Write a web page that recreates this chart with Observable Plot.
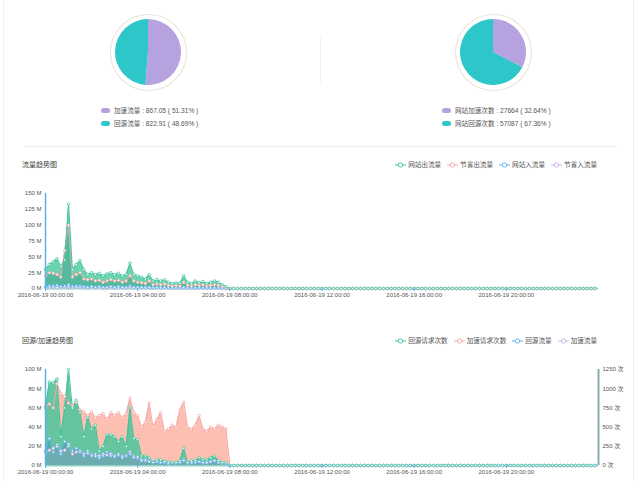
<!DOCTYPE html>
<html><head><meta charset="utf-8">
<script src="https://cdn.jsdelivr.net/npm/d3@7"></script>
<script src="https://cdn.jsdelivr.net/npm/@observablehq/plot@0.6"></script>
<style>
body{margin:0;background:#fff;font-family:"Liberation Sans","Noto Sans CJK SC",sans-serif;}
#root{position:relative;width:640px;height:482px;overflow:hidden;background:#fff;}
.abs{position:absolute;}
.title{font-size:7px;color:#444;line-height:10px;white-space:nowrap;}
.plg{font-size:6.6px;color:#555;line-height:9px;white-space:nowrap;display:flex;align-items:center;}
.plg .mk{display:inline-block;width:9px;height:5.5px;border-radius:3px;margin-right:4px;}
.clg{font-size:6.6px;color:#555;line-height:9px;white-space:nowrap;display:flex;align-items:center;gap:6px;}
.clg .it{display:flex;align-items:center;gap:2px;}
</style></head><body><div id="root"></div>
<script>
// ---------- data ----------
const pie1Labels = ["加速流量", "回源流量"];
const pie1Values = [867.05, 822.91];
const pie1Pct = ["51.31%", "48.69%"];
const pie2Labels = ["网站加速次数", "网站回源次数"];
const pie2Values = [27664, 57087];
const pie2Pct = ["32.64%", "67.36%"];

const chart1Title = "流量趋势图";
const chart1Series = ["网站出流量", "节省出流量", "网站入流量", "节省入流量"];
const chart2Title = "回源/加速趋势图";
const chart2Series = ["回源请求次数", "加速请求次数", "回源流量", "加速流量"];

// 10-minute samples, 00:00 - 07:50 (M)
const outFlow   = [30,38,42,47,35,45,133,30,38,44,30,22,25,22,24,20,23,25,22,24,20,22,40,22,20,18,15,22,12,14,12,14,10,8,9,8,20,10,8,12,9,11,8,10,12,10,6,3];
const savedOut  = [20,25,24,22,18,60,100,18,22,25,15,14,15,12,13,10,12,14,12,13,10,12,20,12,10,9,8,12,6,7,6,7,5,4,5,4,10,5,4,6,5,6,4,5,6,5,3,1];
const inFlow    = [3,4,4,5,3,4,6,3,4,4,3,2,3,2,3,2,2,3,2,3,2,2,4,2,2,2,2,2,1,2,1,2,1,1,1,1,2,1,1,1,1,1,1,1,1,1,1,0];
const savedIn   = [1,2,2,2,1,2,3,1,2,2,1,1,1,1,1,1,1,1,1,1,1,1,2,1,1,1,1,1,1,1,1,1,0,0,0,0,1,0,0,0,0,0,0,0,0,0,0,0];
// counts (次)
const backReq   = [750,1088,1075,1125,375,750,1250,750,850,688,375,625,475,525,188,250,400,400,375,313,375,250,750,350,338,125,125,100,38,75,75,50,50,38,38,63,225,38,63,63,100,75,75,100,125,63,38,38];
const accReq    = [775,800,750,1063,938,900,813,775,825,725,700,650,700,625,650,675,600,688,650,688,625,675,875,688,650,500,563,813,500,600,688,438,475,525,500,725,825,500,475,525,650,475,450,500,475,525,500,475];
// M
const backFlow  = [15,28,14,22,12,25,20,15,18,14,10,15,10,12,8,10,14,10,9,12,8,10,12,8,9,5,6,4,3,4,3,3,2,3,2,3,5,2,3,3,4,3,3,4,5,3,2,2];
const accFlow   = [14,16,18,20,15,16,22,12,14,15,12,13,11,10,10,12,11,12,10,11,9,10,14,9,8,6,5,5,4,4,3,4,3,3,3,4,6,3,3,4,4,3,3,4,5,3,2,2];
// 08:00 - 23:50 : all zero
const idle = [0,0,0,0,0,0,0,0,0,0,0,0,0,0,0,0,0,0,0,0,0,0,0,0,0,0,0,0,0,0,0,0,0,0,0,0,0,0,0,0,0,0,0,0,0,0,0,0,0,0,0,0,0,0,0,0,0,0,0,0,0,0,0,0,0,0,0,0,0,0,0,0,0,0,0,0,0,0,0,0,0,0,0,0,0,0,0,0,0,0,0,0,0,0,0,0];

const xTickHours = [0,4,8,12,16,20];
const y1Ticks = [0,25,50,75,100,125,150];
const y2Ticks = [0,20,40,60,80,100];
const countTicks = [0,250,500,750,1000,1250];
const countPerM = 12.5;

// ---------- helpers ----------
const root = document.getElementById("root");
const FONT = '"Liberation Sans","Noto Sans CJK SC",sans-serif';
const t0 = new Date(Date.UTC(2016,5,19));
const t1 = new Date(Date.UTC(2016,5,20));
const times = d3.utcMinute.every(10).range(t0, t1);
const xTicks = xTickHours.map(h => d3.utcHour.offset(t0, h));
const rows = arr => arr.concat(idle).map((v,i) => ({t: times[i], v}));
function place(node, left, top) { node.style.position="absolute"; node.style.left=left+"px"; node.style.top=top+"px"; root.appendChild(node); return node; }
function div(cls, html, left, top) { const d=document.createElement("div"); d.className=cls; d.innerHTML=html; return place(d,left,top); }

// frame lines
div("abs","",3,0).style.cssText += "width:1px;height:482px;background:#f1f1f1;";
div("abs","",633,0).style.cssText += "width:1px;height:482px;background:#f1f1f1;";
div("abs","",320,38).style.cssText += "width:1px;height:44px;background:#efefef;";
div("abs","",24,146).style.cssText += "width:594px;height:1px;background:#eeeeee;";

// ---------- pies ----------
const pieColors = ["#b6a2de", "#2ec7c9"];
function pie(values) {
  const W = 90, H = 90;
  return Plot.plot({
    width: W, height: H, margin: 0,
    marks: [
      Plot.dot([0], {frameAnchor: "middle", r: 38, fill: "none", stroke: "#ece6da", strokeWidth: 1.2}),
      (index, scales, vals, dims) => {
        const w = (dims && dims.width) || W, h = (dims && dims.height) || H;
        const g = d3.create("svg:g").attr("transform", `translate(${w/2},${h/2})`);
        const arcs = d3.pie().sort(null)(values);
        g.selectAll("path").data(arcs).join("path")
          .attr("d", d3.arc().innerRadius(0).outerRadius(33))
          .attr("fill", (d,i) => pieColors[i]);
        return g.node();
      }
    ]
  });
}
place(pie(pie1Values), 103, 7);
place(pie(pie2Values), 448, 7);

function pieLegend(labels, values, pcts, left) {
  labels.forEach((l,i) => {
    div("plg", `<span class="mk" style="background:${pieColors[i]}"></span>${l} : ${values[i]} ( ${pcts[i]} )`, left, 106 + i*13);
  });
}
pieLegend(pie1Labels, pie1Values.map(v=>v.toFixed(2)), pie1Pct, 101);
pieLegend(pie2Labels, pie2Values, pie2Pct, 442);

// ---------- line/area charts ----------
const c1Colors = ["#3cc39c", "#f4a7a4", "#5ab1ef", "#c5b4e6"];
const c2Colors = ["#3cc39c", "#f4a7a4", "#5ab1ef", "#c5b4e6"];

function legendHTML(names, colors) {
  return names.map((n,i) => `<span class="it"><svg width="11" height="6"><line x1="0" x2="11" y1="3" y2="3" stroke="${colors[i]}" stroke-width="1"/><circle cx="5.5" cy="3" r="2.2" fill="#fff" stroke="${colors[i]}" stroke-width="0.9"/></svg>${n}</span>`).join("");
}

div("title", chart1Title, 22, 160);
const lg1 = div("clg", legendHTML(chart1Series, c1Colors), 0, 160);
lg1.style.left = ""; lg1.style.right = "43px";

function seriesMarks(data, color, fill, fillOpacity, yf) {
  const y = yf || "v";
  return {
    area: Plot.areaY(data, {x: "t", y, fill, fillOpacity}),
    line: Plot.lineY(data, {x: "t", y, stroke: color, strokeWidth: 1}),
    dot: Plot.dot(data, {x: "t", y, r: 1.25, fill: "#fff", stroke: color, strokeWidth: 0.8})
  };
}

const xAxis = Plot.axisX(xTicks, {tickFormat: d3.utcFormat("%Y-%m-%d %H:%M:%S"), tickSize: 3, tickPadding: 1, stroke: "#5ab1ef", fill: "#555", label: null});

{
  const s1 = seriesMarks(rows(outFlow), c1Colors[0], "#5dd0aa", 0.92);
  const s2 = seriesMarks(rows(savedOut), c1Colors[1], "#3b9b85", 0.45);
  const s3 = seriesMarks(rows(inFlow), c1Colors[2], "#5ab1ef", 0.4);
  const s4 = seriesMarks(rows(savedIn), c1Colors[3], "#c5b4e6", 0.4);
  const p = Plot.plot({
    width: 640, height: 118, marginTop: 8, marginBottom: 15, marginLeft: 45, marginRight: 42,
    style: {fontSize: "6px", fontFamily: FONT, color: "#555", background: "transparent"},
    x: {type: "utc", domain: [t0, t1]},
    y: {domain: [0, 150]},
    marks: [
      Plot.ruleY([0], {stroke: "#8fd4c4", strokeWidth: 2}),
      s1.area, s2.area, s3.area, s4.area,
      s4.line, s3.line, s2.line, s1.line,
      s4.dot, s3.dot, s2.dot, s1.dot,
      xAxis,
      Plot.axisY(y1Ticks, {tickFormat: d => d + " M", tickSize: 0, tickPadding: 4, fill: "#555", label: null}),
      Plot.ruleX([t0], {y1: 0, y2: 150, stroke: "#5ab1ef", strokeWidth: 1.5})
    ]
  });
  place(p, 0, 185);
}

div("title", chart2Title, 22, 336);
const lg2 = div("clg", legendHTML(chart2Series, c2Colors), 0, 336);
lg2.style.left = ""; lg2.style.right = "43px";

{
  const toM = d => d.v / countPerM;
  const s1 = seriesMarks(rows(backReq), c2Colors[0], "#5ec49e", 0.95, toM);
  const s2 = seriesMarks(rows(accReq), c2Colors[1], "#fcbcae", 0.95, toM);
  const s3 = seriesMarks(rows(backFlow), c2Colors[2], "#2f7f9a", 0.35);
  const s4 = seriesMarks(rows(accFlow), c2Colors[3], "#c5b4e6", 0.25);
  const p = Plot.plot({
    width: 640, height: 122, marginTop: 9, marginBottom: 17, marginLeft: 45, marginRight: 42,
    style: {fontSize: "6px", fontFamily: FONT, color: "#555", background: "transparent"},
    x: {type: "utc", domain: [t0, t1]},
    y: {domain: [0, 100]},
    marks: [
      Plot.ruleY([0], {stroke: "#8fd4c4", strokeWidth: 2}),
      s2.area, s1.area, s3.area, s4.area,
      s2.line, s1.line, s4.line, s3.line,
      s2.dot, s4.dot, s3.dot, s1.dot,
      xAxis,
      Plot.axisY(y2Ticks, {tickFormat: d => d + " M", tickSize: 0, tickPadding: 4, fill: "#555", label: null}),
      Plot.axisY(countTicks.map(c => c / countPerM), {anchor: "right", tickFormat: d => Math.round(d * countPerM) + " 次", tickSize: 0, tickPadding: 4, fill: "#555", label: null}),
      Plot.ruleX([t0], {y1: 0, y2: 100, stroke: "#5ab1ef", strokeWidth: 1.5}),
      Plot.ruleX([t1], {y1: 0, y2: 100, stroke: "#86adb5", strokeWidth: 2})
    ]
  });
  place(p, 0, 360);
}
</script></body></html>
